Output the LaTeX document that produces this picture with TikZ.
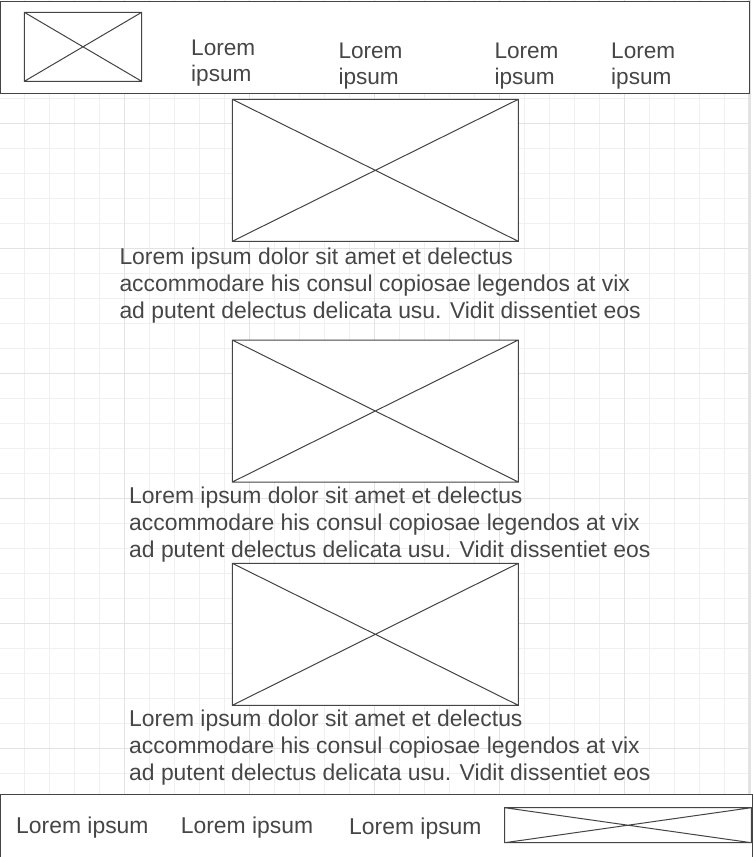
\documentclass[tikz,border=0pt]{standalone}
\usepackage{fontspec}
\setmainfont{Liberation Sans}
\usepackage{xcolor}
\usepackage{tikz}

\definecolor{gridminor}{HTML}{F0F0F0}
\definecolor{gridmajor}{HTML}{E3E3E3}
\definecolor{wireline}{HTML}{444444}
\definecolor{loremgray}{HTML}{464646}

\tikzset{
  wire/.style={draw=wireline, line width=1pt},
  lorem/.style={text=loremgray, inner sep=0pt, align=left, anchor=north west,
    font=\fontsize{22.9}{27}\selectfont},
  navlorem/.style={lorem, font=\fontsize{22.6}{26}\selectfont},
}

\begin{document}
\begin{tikzpicture}[x=1pt, y=-1pt]
  \useasboundingbox (0,0) rectangle (753,857);
  % background grid
  \foreach \x in {0,...,29}
    \draw[gridminor, line width=1pt] (24.3+25*\x,0) -- (24.3+25*\x,857);
  \foreach \y in {0,...,33}
    \draw[gridminor, line width=1pt] (0,23.3+25*\y) -- (749,23.3+25*\y);
  \foreach \x in {124.3,249.3,374.3,499.3,624.3}
    \draw[gridmajor, line width=1pt] (\x,0) -- (\x,857);
  \foreach \y in {123.3,248.3,373.3,498.3,623.3,748.3}
    \draw[gridmajor, line width=1pt] (0,\y) -- (749,\y);
  \draw[gridmajor, line width=3pt] (749.5,0) -- (749.5,857);

  % header bar
  \filldraw[wire, fill=white] (0.5,1.3) rectangle (749.3,93.3);
  \draw[wire] (24.3,12.3) rectangle (141.7,81.3)
    (24.3,12.3) -- (141.7,81.3) (24.3,81.3) -- (141.7,12.3);
  \node[navlorem] (navone) at (191,40.1) {Lorem\\ipsum};
  \node[navlorem] (navtwo) at (338.3,43.1) {Lorem\\ipsum};
  \node[navlorem] (navthree) at (494.3,43.1) {Lorem\\ipsum};
  \node[navlorem] (navfour) at (611,43.1) {Lorem\\ipsum};

  % content images
  \foreach \imgtop in {99.3,340,563.3}
    \filldraw[wire, fill=white] (232.3,\imgtop) rectangle (518.3,\imgtop+142)
      (232.3,\imgtop) -- (518.3,\imgtop+142) (232.3,\imgtop+142) -- (518.3,\imgtop);

  % content texts
  \node[lorem] (textone) at (119.3,247.6) {Lorem ipsum dolor sit amet et delectus\\accommodare his consul copiosae legendos at vix\\ad putent delectus delicata usu. Vidit dissentiet eos};
  \node[lorem] (texttwo) at (129,486.8) {Lorem ipsum dolor sit amet et delectus\\accommodare his consul copiosae legendos at vix\\ad putent delectus delicata usu. Vidit dissentiet eos};
  \node[lorem] (textthree) at (129,709.3) {Lorem ipsum dolor sit amet et delectus\\accommodare his consul copiosae legendos at vix\\ad putent delectus delicata usu. Vidit dissentiet eos};

  % footer bar
  \filldraw[wire, fill=white] (0.5,794.3) rectangle (752.3,870);
  \node[lorem, anchor=base west] (footone) at (16,833.8) {Lorem ipsum};
  \node[lorem, anchor=base west] (foottwo) at (180.7,833.8) {Lorem ipsum};
  \node[lorem, anchor=base west] (footthree) at (349,834.5) {Lorem ipsum};
  \draw[wire] (504.7,807.7) rectangle (751.3,842.7)
    (504.7,807.7) -- (751.3,842.7) (504.7,842.7) -- (751.3,807.7);
\end{tikzpicture}
\end{document}
